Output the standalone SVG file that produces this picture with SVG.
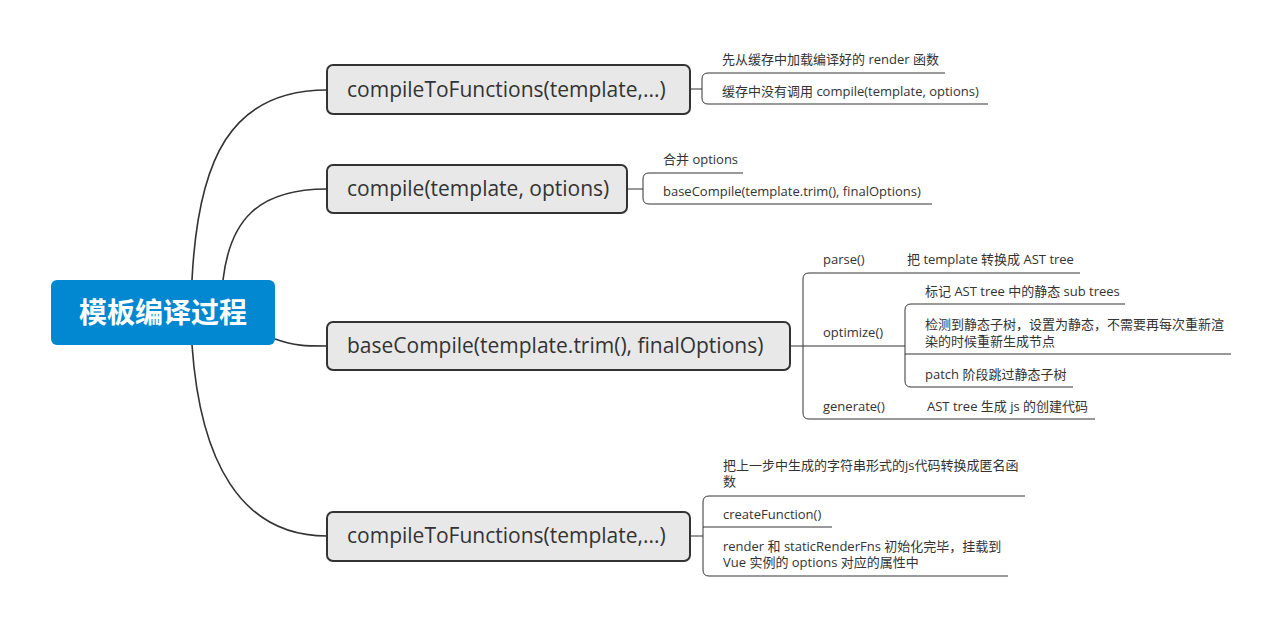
<svg xmlns="http://www.w3.org/2000/svg" width="1281" height="627" viewBox="0 0 1281 627">
<style>
.conn{fill:none;stroke:#333;stroke-width:1.6}
.sub{fill:none;stroke:#333;stroke-width:1}
.main rect{fill:#E8E8E8;stroke:#333;stroke-width:2}
.main text{font-family:"Open Sans","Noto Sans","Noto Sans CJK SC",sans-serif;font-size:21px;fill:#333}
.leaf text{font-family:"Open Sans","Noto Sans","Noto Sans CJK SC",sans-serif;font-size:13px;fill:#333}
.root text{font-family:"Noto Sans CJK SC",sans-serif;font-size:28px;font-weight:bold;fill:#fff}
</style>
<rect width="1281" height="627" fill="#fff"/>
<g id="connectors">
<path class="conn" d="M192,280 C198,160 230,90 327,90"/>
<path class="conn" d="M223,280 C230,220 258,189 327,189"/>
<path class="conn" d="M275,339 C295,346 305,346 327,346"/>
<path class="conn" d="M192,345 C200,460 240,536 327,536"/>
<path class="sub" d="M690,89 H702 M945,73 H708 Q702,73 702,79 V98 Q702,104 708,104 H988"/>
<path class="sub" d="M627,189 H643 M743,173 H649 Q643,173 643,179 V198 Q643,204 649,204 H932"/>
<path class="sub" d="M790,346 H905 M1080,273 H809 Q803,273 803,279 V413 Q803,419 809,419 H1095"/>
<path class="sub" d="M1125,304 H911 Q905,304 905,310 V381 Q905,387 911,387 H1073 M905,354 H1231"/>
<path class="sub" d="M690,536 H703 M1025,496 H709 Q703,496 703,502 V570 Q703,576 709,576 H1008 M703,527 H832"/>
</g>
<g id="root" class="root">
<rect x="51" y="280" width="224" height="65" rx="6" fill="#0288D1"/>
<text x="163" y="323" text-anchor="middle">模板编译过程</text>
</g>
<g id="n1" class="main">
<rect x="327" y="65" width="363" height="49" rx="6"/>
<text x="347" y="97">compileToFunctions(template,...)</text>
</g>
<g id="n2" class="main">
<rect x="327" y="165" width="300" height="48" rx="6"/>
<text x="347" y="196">compile(template, options)</text>
</g>
<g id="n3" class="main">
<rect x="327" y="322" width="463" height="48" rx="6"/>
<text x="347" y="353">baseCompile(template.trim(), finalOptions)</text>
</g>
<g id="n4" class="main">
<rect x="327" y="512" width="363" height="49" rx="6"/>
<text x="347" y="543">compileToFunctions(template,...)</text>
</g>
<g id="n1c" class="leaf">
<text x="722" y="64">先从缓存中加载编译好的 render 函数</text>
<text x="722" y="96">缓存中没有调用 compile(template, options)</text>
</g>
<g id="n2c" class="leaf">
<text x="663" y="164">合并 options</text>
<text x="663" y="196">baseCompile(template.trim(), finalOptions)</text>
</g>
<g id="n3c" class="leaf">
<text x="823" y="264">parse()</text>
<text x="907" y="264">把 template 转换成 AST tree</text>
<text x="823" y="337">optimize()</text>
<text x="925" y="296">标记 AST tree 中的静态 sub trees</text>
<text x="925" y="329">检测到静态子树，设置为静态，不需要再每次重新渲</text>
<text x="925" y="346">染的时候重新生成节点</text>
<text x="925" y="379">patch 阶段跳过静态子树</text>
<text x="823" y="411">generate()</text>
<text x="927" y="411">AST tree 生成 js 的创建代码</text>
</g>
<g id="n4c" class="leaf">
<text x="723" y="470">把上一步中生成的字符串形式的js代码转换成匿名函</text>
<text x="723" y="486">数</text>
<text x="723" y="519">createFunction()</text>
<text x="723" y="551">render 和 staticRenderFns 初始化完毕，挂载到</text>
<text x="723" y="567">Vue 实例的 options 对应的属性中</text>
</g>
</svg>
